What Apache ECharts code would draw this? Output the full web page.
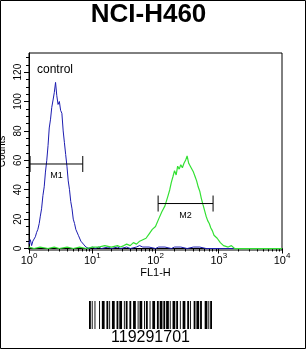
<!DOCTYPE html>
<html><head><meta charset="utf-8">
<script src="https://cdn.jsdelivr.net/npm/echarts@6/dist/echarts.min.js"></script>
<style>html,body{margin:0;padding:0;background:#fff}#c{width:306px;height:349px}</style>
</head><body><div id="c"></div>
<script>
// ---- data ----
const chartTitle = 'NCI-H460';
const xName = 'FL1-H';
const yName = 'Counts';
const xMajorTicks = [1, 10, 100, 1000, 10000];
const xMinorTicks = [2,3,4,5,6,7,8,9,20,30,40,50,60,70,80,90,200,300,400,500,600,700,800,900,2000,3000,4000,5000,6000,7000,8000,9000];
const yTicks = [0, 20, 40, 60, 80, 100, 120];
const yMinorTicks = [5,10,15,25,30,35,45,50,55,65,70,75,85,90,95,105,110,115,125,130];

const controlX = [1.0,1.05,1.1,1.15,1.2,1.26,1.32,1.38,1.45,1.51,1.58,1.66,1.74,1.82,1.91,2.0,2.09,2.19,2.29,2.4,2.51,2.63,2.75,2.88,3.02,3.16,3.31,3.47,3.63,3.8,3.98,4.17,4.37,4.57,4.79,5.01,5.25,5.5,5.75,6.03,6.31,6.61,6.92,7.24,7.59,7.94,8.9,10,11.2,12.6,14,17.8,20,25,28,35,40,50,56,63,79,100,112,141,178,200,251,316,398,500,631,1000,10000];
const controlY = [3,6,2,5,4,8,11,13,17,22,27,36,42,52,60,70,82,88,96,101,106,113,104,98,100,94,92,80,72,64,56,46,40,32,27,20,17,13,12,9,8,5,6,3,2,1,0,1,0,1,0,1,0,1,0,1,0,1,2,1,1,0,1,1,0,1,1,0,1,1,0,0,0];

const sampleX = [1,1.2,1.5,2,2.5,3,4,5,6.3,8,10,12.6,15.8,20,25,28,31.6,35,39.8,44.7,50.1,56.2,63.1,70.8,79.4,89,100,112,126,141,158,168,178,189,200,212,224,237,251,266,282,299,316,335,355,376,398,422,447,473,501,531,562,596,631,668,708,750,794,841,891,944,1000,1059,1122,1189,1259,1413,1585,1778,2000,10000];
const sampleY = [1,0,1,0,1,0,1,0,1,0,1,1,2,1,2,1,2,3,2,4,3,5,6,7,10,13,15,20,25,29,36,40,45,49,53,50,56,54,57,55,58,60,63,58,56,55,52,49,46,42,39,34,30,26,22,19,17,14,12,9,8,7,6,4,4,2,2,1,2,0,0,0];

const gates = [
  { name: 'M1', from: 1.04, to: 7.08, level: 57.5 },
  { name: 'M2', from: 110, to: 813, level: 30.6 }
];
const barcodeText = '119291701';

// ---- barcode (Code 128 B) ----
const C128 = {16:'123122',17:'123221',18:'223211',23:'312131',25:'321122',44:'132131',104:'211214',106:'2331112'};
function code128Widths(txt) {
  const vals = txt.split('').map(ch => ch.charCodeAt(0) - 32);
  let sum = 104;
  vals.forEach((v, i) => { sum += (i + 1) * v; });
  const check = sum % 103;
  const seq = [104].concat(vals, [check, 106]);
  let s = '';
  seq.forEach(v => { s += C128[v] || '212222'; });
  return s.split('').map(Number);
}
const widths = code128Widths(barcodeText);
const totalModules = widths.reduce((a, b) => a + b, 0);
const bcLeft = 89, bcWidth = 123, bcTop = 301, bcHeight = 28;
const mod = bcWidth / totalModules;
const barRects = [];
let pos = 0;
widths.forEach((w, i) => {
  if (i % 2 === 0) {
    barRects.push({ type: 'rect', shape: { x: bcLeft + pos * mod, y: bcTop, width: w * mod, height: bcHeight }, style: { fill: '#000' } });
  }
  pos += w;
});

const chart = echarts.init(document.getElementById('c'), null, { renderer: 'canvas' });
const small = 'Liberation Sans, Arial, sans-serif';

chart.setOption({
  animation: false,
  backgroundColor: '#fff',
  grid: { left: 29, right: 24, top: 53, bottom: 99, show: true, borderColor: '#000', borderWidth: 1, containLabel: false, outerBoundsMode: 'none' },
  xAxis: [{
    type: 'log', logBase: 10, min: 1, max: 10000,
    name: xName, nameLocation: 'middle', nameGap: 17, nameMoveOverlap: false,
    nameTextStyle: { fontSize: 11, color: '#000', fontFamily: small },
    axisLine: { lineStyle: { color: '#000', width: 1 } },
    axisTick: { show: true, length: 5, lineStyle: { color: '#000' } },
    splitLine: { show: false },
    axisLabel: {
      margin: 4, color: '#000',
      formatter: v => '{b|10}{s|' + Math.round(Math.log10(v)) + '}',
      rich: {
        b: { fontSize: 11, fontFamily: small, color: '#000', verticalAlign: 'bottom', lineHeight: 12 },
        s: { fontSize: 8, fontFamily: small, color: '#000', verticalAlign: 'bottom', lineHeight: 8, padding: [0, 0, 6, 0] }
      }
    }
  }, {
    type: 'log', logBase: 10, min: 1, max: 10000, position: 'bottom',
    axisLine: { show: false },
    axisLabel: { show: false },
    splitLine: { show: false },
    axisTick: { show: true, length: 3, customValues: xMinorTicks, lineStyle: { color: '#000' } }
  }],
  yAxis: [{
    type: 'value', min: -1, max: 133,
    name: yName, nameLocation: 'middle', nameGap: 22, nameMoveOverlap: false,
    nameTextStyle: { fontSize: 10, color: '#000', fontFamily: small },
    axisLine: { show: true, lineStyle: { color: '#000' } },
    axisTick: { show: true, length: 5, customValues: yTicks, lineStyle: { color: '#000' } },
    splitLine: { show: false },
    axisLabel: { customValues: yTicks, rotate: 90, margin: 6, fontSize: 10, color: '#000', fontFamily: small }
  }, {
    type: 'value', min: -1, max: 133, position: 'left',
    axisLine: { show: false },
    axisLabel: { show: false },
    splitLine: { show: false },
    axisTick: { show: true, length: 3, customValues: yMinorTicks, lineStyle: { color: '#000' } }
  }],
  series: [{
    name: 'control', type: 'line', xAxisIndex: 0, yAxisIndex: 0,
    data: controlX.map((x, i) => [x, controlY[i]]),
    showSymbol: false, lineStyle: { color: '#1c1cb0', width: 1 }, z: 3
  }, {
    name: 'sample', type: 'line', xAxisIndex: 0, yAxisIndex: 0,
    data: sampleX.map((x, i) => [x, sampleY[i]]),
    showSymbol: false, lineStyle: { color: '#33e033', width: 1.2 }, z: 4
  }, {
    type: 'custom', xAxisIndex: 0, yAxisIndex: 0, z: 5,
    data: gates.map(g => [g.from, g.to, g.level]),
    encode: { x: [0, 1], y: 2 },
    renderItem: (params, api) => {
      const p1 = api.coord([api.value(0), api.value(2)]);
      const p2 = api.coord([api.value(1), api.value(2)]);
      const st = { stroke: '#000', lineWidth: 1 };
      return {
        type: 'group',
        children: [
          { type: 'line', shape: { x1: p1[0], y1: p1[1], x2: p2[0], y2: p2[1] }, style: st },
          { type: 'line', shape: { x1: p1[0], y1: p1[1] - 8, x2: p1[0], y2: p1[1] + 8 }, style: st },
          { type: 'line', shape: { x1: p2[0], y1: p2[1] - 8, x2: p2[0], y2: p2[1] + 8 }, style: st },
          { type: 'text', style: { text: gates[params.dataIndex].name, x: (p1[0] + p2[0]) / 2, y: p1[1] + 7, align: 'center', verticalAlign: 'top', fontSize: 9, fontFamily: small, fill: '#000' } }
        ]
      };
    }
  }],
  graphic: [
    { type: 'rect', shape: { x: 0.5, y: 0.5, width: 305, height: 348 }, style: { fill: 'none', stroke: '#000', lineWidth: 1 }, silent: true },
    { type: 'text', style: { text: chartTitle, x: 148.5, y: 15, align: 'center', verticalAlign: 'middle', fontSize: 26, fontWeight: 'bold', fontFamily: small, fill: '#000' } },
    { type: 'text', style: { text: 'control', x: 37, y: 70, align: 'left', verticalAlign: 'middle', fontSize: 12, fontFamily: small, fill: '#000' } },
    { type: 'group', children: barRects },
    { type: 'text', style: { text: barcodeText, x: 150.5, y: 338, align: 'center', verticalAlign: 'middle', fontSize: 16, fontFamily: small, fill: '#000' } }
  ]
});
</script>
</body></html>
